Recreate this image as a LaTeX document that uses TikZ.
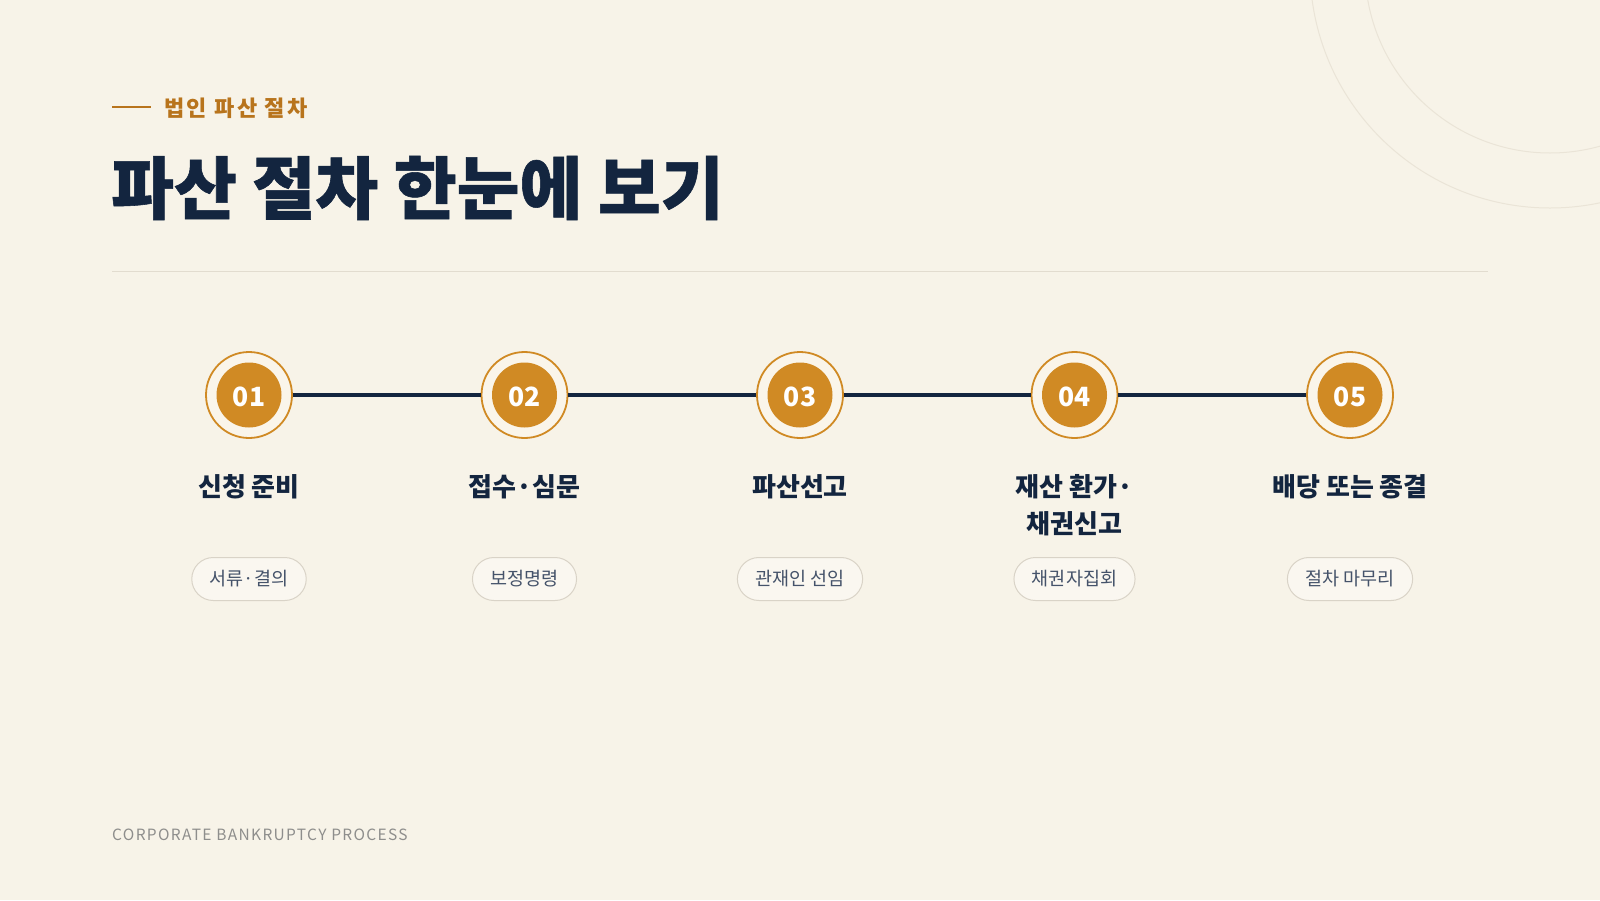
\documentclass[tikz,border=0pt]{standalone}
\usepackage{fontspec}
\newfontfamily\kr{Noto Sans CJK KR}
\definecolor{bg}{HTML}{F7F3E8}
\definecolor{navy}{HTML}{13253F}
\definecolor{gold}{HTML}{D08A24}
\definecolor{goldtxt}{HTML}{B8741C}
\definecolor{rule}{HTML}{E2DCCF}
\definecolor{arcc}{HTML}{EAE4D7}
\definecolor{pillfill}{HTML}{FAF7F0}
\definecolor{pilldraw}{HTML}{D9D3C7}
\definecolor{pilltxt}{HTML}{45536A}
\definecolor{foot}{HTML}{8E8E8C}
\definecolor{ringfill}{HTML}{FAF5EA}
\tikzset{
  ring/.style={circle, draw=gold, line width=1.8pt, fill=ringfill, minimum size=86pt, inner sep=0pt},
  badge/.style={circle, fill=gold, minimum size=65pt, inner sep=0pt},
  badgenum/.style={inner sep=0pt, text=white, font=\kr\bfseries\fontsize{26.5}{30}\selectfont},
  steptitle/.style={text=navy, font=\kr\bfseries\fontsize{26}{37}\selectfont, align=center, anchor=north},
  pill/.style={rounded corners=21.5pt, draw=pilldraw, line width=1pt, fill=pillfill, minimum height=43pt, inner xsep=18pt, text=pilltxt, font=\kr\fontsize{18.5}{20}\selectfont},
  link/.style={draw=navy, line width=3.6pt}
}
\begin{document}
\begin{tikzpicture}[x=1pt,y=-1pt]
\fill[bg] (0,0) rectangle (1600,900);
\useasboundingbox (0,0) rectangle (1600,900);
% decorative arcs
\begin{scope}
\clip (0,0) rectangle (1600,900);
\draw[arcc, line width=1pt] (1550,-32) circle[radius=240];
\draw[arcc, line width=1pt] (1550,-32) circle[radius=185];
\end{scope}
% header
\coordinate (dashL) at (112,107);
\coordinate (dashR) at (151,107);
\draw[goldtxt, line width=2.5pt] (dashL) -- (dashR);
\node[anchor=west, inner sep=0pt, text=goldtxt, font=\kr\bfseries\fontsize{22}{26}\selectfont\addfontfeatures{LetterSpace=11}] (kicker) at (164,108) {법인 파산 절차};
\node[anchor=west, inner sep=0pt, text=navy, font=\kr\bfseries\fontsize{68.3}{80}\selectfont\addfontfeatures{FakeBold=0.8}] (title) at (111,188) {파산 절차 한눈에 보기};
\coordinate (ruleL) at (112,271);
\coordinate (ruleR) at (1488,271);
\draw[rule, line width=1pt] (ruleL) -- (ruleR);
% timeline
\foreach \i/\x in {1/249,2/524.5,3/800,4/1074.5,5/1350}{
  \node[ring] (r\i) at (\x,395) {};
}
\draw[link] (r1) -- (r2);
\draw[link] (r2) -- (r3);
\draw[link] (r3) -- (r4);
\draw[link] (r4) -- (r5);
\foreach \i/\x in {1/249,2/524.5,3/800,4/1074.5,5/1350}{
  \node[badge] (b\i) at (\x,395) {};
  \node[badgenum, yshift=-2pt] (n\i) at (b\i) {0\i};
}
\node[steptitle] (t1) at (249,471) {신청 준비};
\node[steptitle] (t2) at (524.5,471) {접수·심문};
\node[steptitle] (t3) at (800,471) {파산선고};
\node[steptitle] (t4) at (1074.5,471) {재산 환가·\\채권신고};
\node[steptitle] (t5) at (1350,471) {배당 또는 종결};
\node[pill] (p1) at (249,579) {서류·결의};
\node[pill] (p2) at (524.5,579) {보정명령};
\node[pill] (p3) at (800,579) {관재인 선임};
\node[pill] (p4) at (1074.5,579) {채권자집회};
\node[pill] (p5) at (1350,579) {절차 마무리};
% footer
\node[anchor=west, inner sep=0pt, text=foot, font=\kr\fontsize{15.5}{18}\selectfont\addfontfeatures{LetterSpace=8.6}] (footer) at (112,835) {CORPORATE BANKRUPTCY PROCESS};
\end{tikzpicture}
\end{document}
